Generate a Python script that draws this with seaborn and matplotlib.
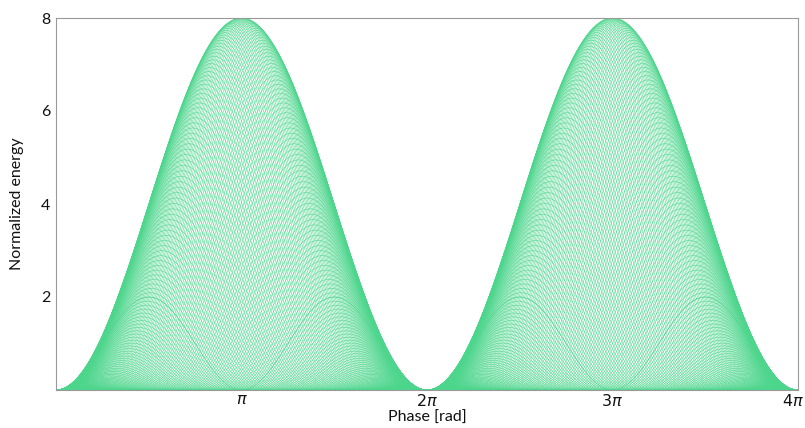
import numpy as np
import pandas as pd
import matplotlib
matplotlib.use("Agg")
import matplotlib.pyplot as plt
import matplotlib.transforms as mtransforms
import seaborn as sns

# Data: family of energy curves E(phi; theta) = 2(1-cos phi)(1-cos(phi+theta))
n_curves = 140
theta_values = np.linspace(-np.pi, np.pi, n_curves)
phase = np.linspace(0, 4 * np.pi, 900)
x_ticks = [np.pi, 2 * np.pi, 3 * np.pi, 4 * np.pi]
x_tick_labels = [r"$\pi$", r"$2\pi$", r"$3\pi$", r"$4\pi$"]
y_ticks = [2, 4, 6, 8]

frames = []
for i, th in enumerate(theta_values):
    e = 2 * (1 - np.cos(phase)) * (1 - np.cos(phase + th))
    frames.append(pd.DataFrame({"phase": phase, "energy": e, "curve": i}))
df = pd.concat(frames, ignore_index=True)

sns.set_style("white")
plt.rcParams["font.family"] = ["Lato", "DejaVu Sans"]
plt.rcParams["mathtext.fontset"] = "dejavusans"

fig = plt.figure(figsize=(8.05, 4.28), dpi=100)
ax = fig.add_axes([56 / 805, 38 / 428, 742 / 805, 372 / 428])

sns.lineplot(data=df, x="phase", y="energy", units="curve", estimator=None,
             color="#4cd68c", linewidth=0.45, alpha=0.85, ax=ax, legend=False)

ax.set_xlim(0, 4 * np.pi)
ax.set_ylim(0, 8)
ax.set_xticks(x_ticks)
ax.set_xticklabels(x_tick_labels)
ax.set_yticks(y_ticks)
ax.tick_params(direction="in", length=6, color="#808080", labelsize=11.5,
               labelcolor="#111111")
ax.tick_params(axis="x", pad=2)
ax.tick_params(axis="y", pad=4)
for s in ax.spines.values():
    s.set_color("#999999")
    s.set_linewidth(0.8)
ax.set_xlabel("Phase [rad]", fontsize=11.5, color="#111111")
ax.xaxis.set_label_coords(0.5, -0.056)
ax.xaxis.label.set_va("top")
ax.set_ylabel("Normalized energy", fontsize=11.5, labelpad=12, color="#111111")

last = ax.get_xticklabels()[-1]
last.set_transform(last.get_transform() +
                   mtransforms.ScaledTranslation(-5 / 100, 0, fig.dpi_scale_trans))

fig.savefig("out.png", dpi=100)
